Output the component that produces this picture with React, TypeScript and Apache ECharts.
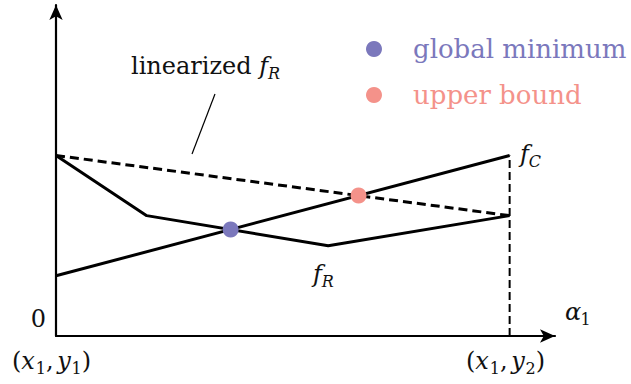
import React, { useEffect, useRef } from "react";
import * as echarts from "echarts";

// ---- data (x in units of the interval, y in function-value units) ----
const fC: number[][] = [[0, 0.2], [1, 0.6]];
const fR: number[][] = [[0, 0.6], [0.2, 0.4], [0.6, 0.3], [1, 0.4]];
const linearizedFR: number[][] = [[0, 0.6], [1, 0.4]];
const boundaryLine: number[][] = [[1, 0], [1, 0.6]];
const globalMinimum: number[][] = [[0.385, 0.354]];
const upperBound: number[][] = [[0.667, 0.467]];
const legendNames = ["global minimum", "upper bound"];

const PURPLE = "#7B78BC";
const SALMON = "#F4928A";
const INK = "#111111";
const SERIF = "DejaVu Serif";
const MAIN = 24;
const SUB = 16;

type Piece = { t: string; it?: boolean; sub?: boolean };

// approximate advance widths of DejaVu Serif (em units)
const ADV: Record<string, number> = {
  l: 0.32, i: 0.32, n: 0.644, e: 0.592, a: 0.596, r: 0.478, z: 0.525, d: 0.64, " ": 0.318,
  g: 0.64, o: 0.602, b: 0.64, m: 0.948, u: 0.644, p: 0.64,
  f: 0.36, R: 0.73, C: 0.72, "α": 0.65, x: 0.6, y: 0.6, "1": 0.636, "2": 0.636, "0": 0.636,
  "(": 0.39, ")": 0.39, ",": 0.318, "\u2009": 0.15,
};
function measure(t: string, size: number) {
  let w = 0;
  for (const ch of t) w += (ADV[ch] ?? 0.6) * size;
  return w;
}

// Builds a run of plain text elements laid out on a common baseline.
function mathText(pieces: Piece[], x0: number, baseline: number, subDrop = 5, color = INK, size = MAIN, align: "left" | "right" = "left") {
  const subSize = Math.round(size * (SUB / MAIN));
  const widths = pieces.map((p) => measure(p.t, p.sub ? subSize : size));
  const total = widths.reduce((a, b) => a + b, 0);
  let x = align === "right" ? x0 - total : x0;
  return pieces.map((p, k) => {
    const s = p.sub ? subSize : size;
    const base = p.sub ? baseline + subDrop : baseline;
    const style: any = {
      text: p.t,
      font: `${p.it ? "italic " : ""}${s}px "${SERIF}"`,
      fontFamily: SERIF,
      fontSize: s,
      fill: color,
      verticalAlign: "middle",
    };
    if (p.it) style.fontStyle = "italic";
    const el = { type: "text", x, y: base - 0.346 * s, z: 10, style };
    x += widths[k];
    return el;
  });
}

export default function App() {
  const ref = useRef<HTMLDivElement>(null);
  useEffect(() => {
    if (!ref.current) return;
    const chart = echarts.init(ref.current, undefined, { renderer: "svg" });
    const makeAxis = () => ({
      type: "value" as const,
      min: 0,
      max: 1.1,
      axisLine: {
        show: true,
        onZero: false,
        symbol: ["none", "arrow"],
        symbolSize: [10, 15],
        lineStyle: { color: "#000", width: 2.2 },
      },
      axisTick: { show: false },
      axisLabel: { show: false },
      splitLine: { show: false },
    });
    const black = { color: "#000", width: 3 };
    const legendItems = [
      { name: legendNames[0], color: PURPLE, cy: 49, base: 58 },
      { name: legendNames[1], color: SALMON, cy: 95, base: 104 },
    ];
    const graphic: any[] = [
      ...mathText([{ t: "linearized " }, { t: "f", it: true }, { t: "R", it: true, sub: true }], 131, 74, 5),
      {
        type: "line",
        shape: { x1: 215, y1: 94, x2: 192, y2: 154 },
        style: { stroke: "#000", lineWidth: 1.2 },
        z: 10,
      },
      ...mathText([{ t: "f", it: true }, { t: "C", it: true, sub: true }], 520, 162, 5),
      ...mathText([{ t: "f", it: true }, { t: "R", it: true, sub: true }], 313, 282, 5),
      ...mathText([{ t: "0" }], 46, 327, 0, INK, MAIN, "right"),
      ...mathText([{ t: "α", it: true }, { t: "1", sub: true }], 565, 320, 5),
      ...mathText(
        [{ t: "(" }, { t: "x", it: true }, { t: "1", sub: true }, { t: ",\u2009" }, { t: "y", it: true }, { t: "1", sub: true }, { t: ")" }],
        12, 369, 5
      ),
      ...mathText(
        [{ t: "(" }, { t: "x", it: true }, { t: "1", sub: true }, { t: ",\u2009" }, { t: "y", it: true }, { t: "2", sub: true }, { t: ")" }],
        466, 369, 5
      ),
    ];
    legendItems.forEach((it) => {
      graphic.push({
        type: "circle",
        shape: { cx: 374, cy: it.cy, r: 8 },
        style: { fill: it.color },
        z: 10,
      });
      graphic.push(...mathText([{ t: it.name }], 413, it.base, 0, it.color, 26));
    });
    chart.setOption({
      animation: false,
      textStyle: { fontFamily: SERIF },
      grid: { left: 56, top: 5, width: 499, bottom: 48 },
      xAxis: makeAxis(),
      yAxis: makeAxis(),
      series: [
        { type: "line", name: "fC", data: fC, symbol: "none", lineStyle: black, z: 3 },
        { type: "line", name: "fR", data: fR, symbol: "none", lineStyle: black, z: 3 },
        {
          type: "line",
          name: "linearized",
          data: linearizedFR,
          symbol: "none",
          lineStyle: { color: "#000", width: 3, type: [9, 5] },
          z: 2,
        },
        {
          type: "line",
          name: "boundary",
          data: boundaryLine,
          symbol: "none",
          lineStyle: { color: "#000", width: 2, type: [8, 4] },
          z: 2,
        },
        {
          type: "scatter",
          name: legendNames[0],
          data: globalMinimum,
          symbol: "circle",
          symbolSize: 16,
          itemStyle: { color: PURPLE, opacity: 1 },
          z: 5,
        },
        {
          type: "scatter",
          name: legendNames[1],
          data: upperBound,
          symbol: "circle",
          symbolSize: 16,
          itemStyle: { color: SALMON, opacity: 1 },
          z: 5,
        },
      ],
      graphic,
    });
    return () => chart.dispose();
  }, []);
  return (
    <div
      ref={ref}
      style={{ position: "fixed", left: 0, top: 0, width: 631, height: 384, background: "#fff", fontFamily: SERIF }}
    />
  );
}
